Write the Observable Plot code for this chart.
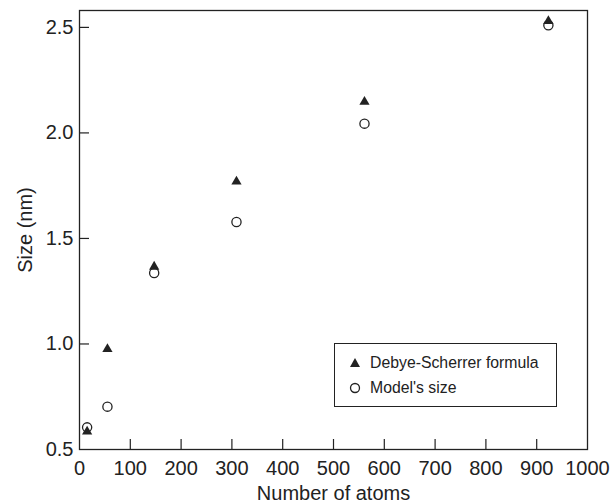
<!DOCTYPE html>
<html>
<head>
<meta charset="utf-8">
<script src="https://cdn.jsdelivr.net/npm/d3@7"></script>
<script src="https://cdn.jsdelivr.net/npm/@observablehq/plot@0.6"></script>
<style>
  body { margin: 0; background: #fff; font-family: "Liberation Sans", Arial, sans-serif; }
  #wrap { position: relative; width: 613px; height: 504px; }
  #legend { position: absolute; left: 334px; top: 343px; width: 221px; height: 62px;
    border: 1.3px solid #222; background: #fff; font-size: 15.8px; color: #222; }
  .row { position: absolute; left: 14px; display: flex; align-items: center; }
  .row svg { margin-right: 9px; }
</style>
</head>
<body>
<div id="wrap"></div>
<script>
const atoms = [15, 55, 147, 309, 561, 923];
const debyeScherrer = [0.585, 0.976, 1.366, 1.769, 2.147, 2.53];
const modelSize = [0.605, 0.703, 1.336, 1.578, 2.044, 2.51];
const xTicks = [0, 100, 200, 300, 400, 500, 600, 700, 800, 900, 1000];
const yTicks = [0.5, 1.0, 1.5, 2.0, 2.5];
const seriesNames = ["Debye-Scherrer formula", "Model's size"];

const ds = atoms.map((a, i) => ({x: a, y: debyeScherrer[i]}));
const ms = atoms.map((a, i) => ({x: a, y: modelSize[i]}));

const W = 613, H = 504, mL = 79, mR = 26, mT = 10, mB = 55;
const ink = "#222";

const chart = Plot.plot({
  width: W, height: H,
  marginLeft: mL, marginRight: mR, marginTop: mT, marginBottom: mB,
  style: {fontFamily: '"Liberation Sans", Arial, sans-serif', fontSize: "20px", color: ink, background: "white"},
  x: {domain: [0, 1000]},
  y: {domain: [0.5, 2.58]},
  marks: [
    Plot.axisX(xTicks, {tickSize: 0, tickPadding: 11, fontSize: 20, tickFormat: d => String(d), label: "Number of atoms", labelAnchor: "center", labelArrow: "none", labelOffset: 50}),
    Plot.axisY(yTicks, {tickSize: 0, tickPadding: 6, fontSize: 20, tickFormat: d3.format(".1f"), label: "Size (nm)", labelAnchor: "center", labelArrow: "none", labelOffset: 62}),
    Plot.tickX(xTicks.slice(1, -1), {x: d => d, stroke: ink, strokeWidth: 1.2, insetTop: H - mT - mB - 10}),
    Plot.tickY(yTicks.slice(1), {y: d => d, stroke: ink, strokeWidth: 1.2, insetRight: W - mL - mR - 10}),
    Plot.frame({stroke: ink, strokeWidth: 1.3}),
    Plot.dot(ms, {x: "x", y: "y", symbol: "circle", r: 4.6, stroke: ink, strokeWidth: 1.3, fill: "white"}),
    Plot.dot(ds, {x: "x", y: "y", symbol: "triangle", r: 3.8, fill: ink, stroke: "none"})
  ]
});

const wrap = document.getElementById("wrap");
wrap.appendChild(chart);

const legend = document.createElement("div");
legend.id = "legend";
legend.innerHTML = `
  <div class="row" style="top:10px"><svg width="12" height="14"><path d="M6,2 L11,11 L1,11 Z" fill="${ink}"/></svg><span>${seriesNames[0]}</span></div>
  <div class="row" style="top:35px"><svg width="12" height="14"><circle cx="6" cy="7" r="4.5" fill="white" stroke="${ink}" stroke-width="1.3"/></svg><span>${seriesNames[1]}</span></div>`;
wrap.appendChild(legend);
</script>
</body>
</html>
